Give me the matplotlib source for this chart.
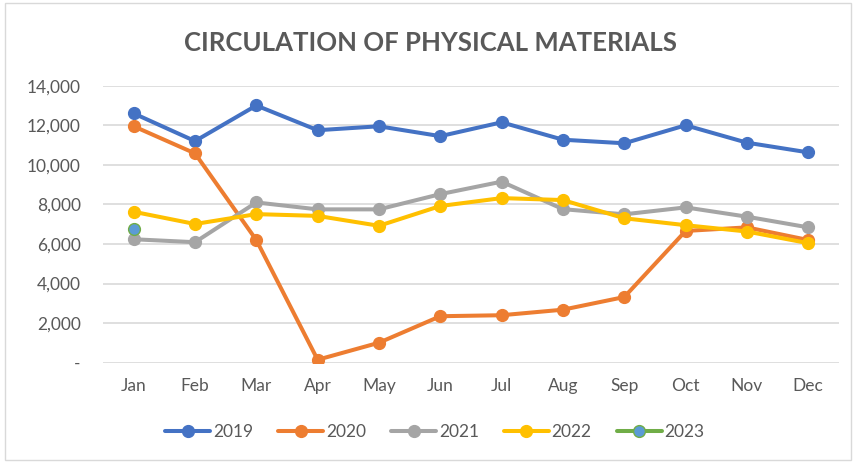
import matplotlib.pyplot as plt
from matplotlib.ticker import FuncFormatter
from matplotlib.patches import Rectangle

months = ['Jan', 'Feb', 'Mar', 'Apr', 'May', 'Jun', 'Jul', 'Aug', 'Sep', 'Oct', 'Nov', 'Dec']
y2019 = [12600, 11200, 13000, 11750, 11950, 11450, 12150, 11270, 11090, 12000, 11120, 10630]
y2020 = [11950, 10580, 6200, 150, 1010, 2350, 2400, 2680, 3320, 6660, 6840, 6200]
y2021 = [6240, 6090, 8100, 7750, 7750, 8520, 9150, 7760, 7500, 7850, 7380, 6840]
y2022 = [7630, 7010, 7510, 7420, 6920, 7920, 8320, 8220, 7300, 6950, 6630, 6040]
y2023 = [6740]

plt.rcParams['font.family'] = ['Lato', 'DejaVu Sans']
text_col = '#595959'

fig = plt.figure(figsize=(8.56, 4.63), dpi=100)
ax = fig.add_axes([0.1203, 0.2166, 0.8598, 0.5983])

x = list(range(len(months)))
series = [
    ('2019', y2019, '#4472C4', '#4472C4'),
    ('2020', y2020, '#ED7D31', '#ED7D31'),
    ('2021', y2021, '#A5A5A5', '#A5A5A5'),
    ('2022', y2022, '#FFC000', '#FFC000'),
    ('2023', y2023, '#70AD47', '#5B9BD5'),
]
for name, vals, col, face in series:
    ax.plot(x[:len(vals)], vals, color=col, lw=2.9, marker='o', markersize=8.5,
            markerfacecolor=face, markeredgecolor=col, markeredgewidth=1.0,
            label=name, solid_capstyle='round')

ax.set_xlim(-0.5, 11.5)
ax.set_ylim(0, 14000)
ax.set_yticks(range(0, 14001, 2000))
ax.yaxis.set_major_formatter(FuncFormatter(lambda v, p: '-' if v == 0 else f'{int(v):,}'))
ax.set_xticks(x)
ax.set_xticklabels(months)
ax.tick_params(length=0, labelsize=12.5, colors=text_col)
ax.tick_params(axis='x', pad=11)
ax.tick_params(axis='y', pad=16)
ax.grid(axis='y', color='#D9D9D9', lw=1.2)
ax.set_axisbelow(True)
for s in ax.spines.values():
    s.set_visible(False)

fig.text(0.503, 0.908, 'CIRCULATION OF PHYSICAL MATERIALS', ha='center', va='center',
         fontsize=18.5, fontweight='bold', color=text_col)

leg = fig.legend(loc='center', bbox_to_anchor=(0.508, 0.067), ncol=5, frameon=False,
                 fontsize=12.5, handlelength=2.6, columnspacing=1.45, handletextpad=0.15)
for t in leg.get_texts():
    t.set_color(text_col)

fig.patches.append(Rectangle((0.006, 0.006), 0.988, 0.988, transform=fig.transFigure,
                             fill=False, edgecolor='#D9D9D9', lw=1))

fig.savefig('out.png', dpi=100, facecolor='white')
